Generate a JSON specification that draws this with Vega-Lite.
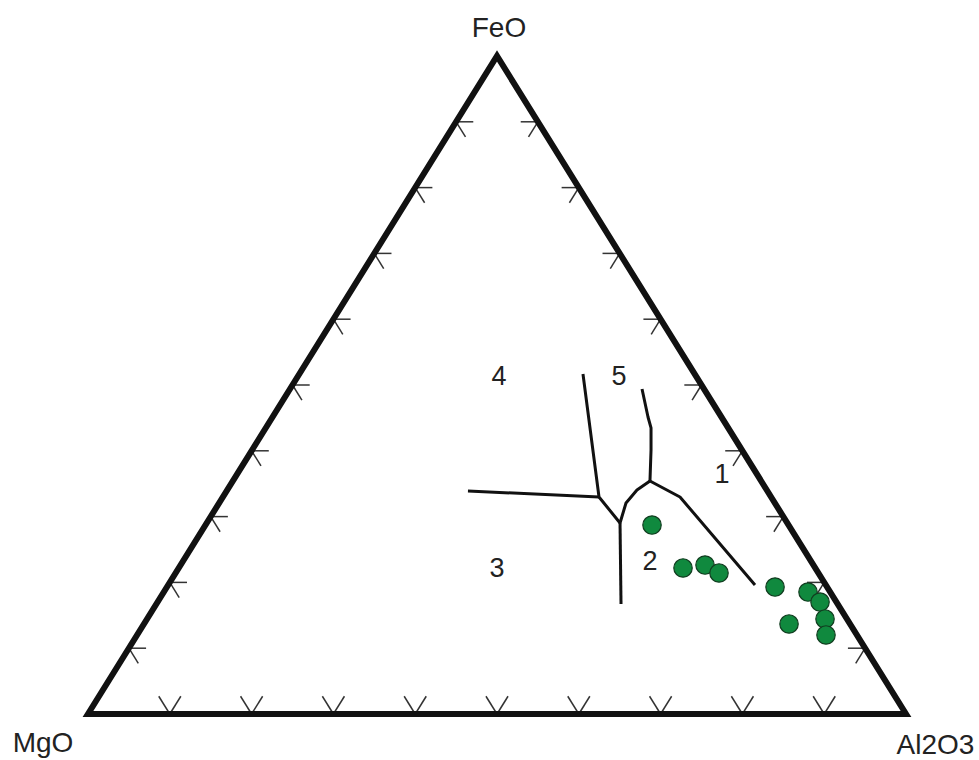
{
  "$schema": "https://vega.github.io/schema/vega-lite/v6.json",
  "autosize": "none",
  "width": 818,
  "height": 658,
  "padding": {"left": 88, "top": 56, "right": 73, "bottom": 46},
  "background": "white",
  "config": {"view": {"stroke": null}, "text": {"font": "Liberation Sans"}},
  "datasets": {
    "frame": [
      {"o": 1, "x": 50, "y": 0},
      {"o": 2, "x": 100, "y": 0},
      {"o": 3, "x": 50, "y": 100},
      {"o": 4, "x": 0, "y": 0},
      {"o": 5, "x": 50, "y": 0}
    ],
    "ticks": [
      {"x": 10, "y": 0, "x2": 8.65, "y2": 2.7}, {"x": 10, "y": 0, "x2": 11.35, "y2": 2.7},
      {"x": 20, "y": 0, "x2": 18.65, "y2": 2.7}, {"x": 20, "y": 0, "x2": 21.35, "y2": 2.7},
      {"x": 30, "y": 0, "x2": 28.65, "y2": 2.7}, {"x": 30, "y": 0, "x2": 31.35, "y2": 2.7},
      {"x": 40, "y": 0, "x2": 38.65, "y2": 2.7}, {"x": 40, "y": 0, "x2": 41.35, "y2": 2.7},
      {"x": 50, "y": 0, "x2": 48.65, "y2": 2.7}, {"x": 50, "y": 0, "x2": 51.35, "y2": 2.7},
      {"x": 60, "y": 0, "x2": 58.65, "y2": 2.7}, {"x": 60, "y": 0, "x2": 61.35, "y2": 2.7},
      {"x": 70, "y": 0, "x2": 68.65, "y2": 2.7}, {"x": 70, "y": 0, "x2": 71.35, "y2": 2.7},
      {"x": 80, "y": 0, "x2": 78.65, "y2": 2.7}, {"x": 80, "y": 0, "x2": 81.35, "y2": 2.7},
      {"x": 90, "y": 0, "x2": 88.65, "y2": 2.7}, {"x": 90, "y": 0, "x2": 91.35, "y2": 2.7},
      {"x": 5, "y": 10, "x2": 7.1, "y2": 10}, {"x": 5, "y": 10, "x2": 6.15, "y2": 7.7},
      {"x": 10, "y": 20, "x2": 12.1, "y2": 20}, {"x": 10, "y": 20, "x2": 11.15, "y2": 17.7},
      {"x": 15, "y": 30, "x2": 17.1, "y2": 30}, {"x": 15, "y": 30, "x2": 16.15, "y2": 27.7},
      {"x": 20, "y": 40, "x2": 22.1, "y2": 40}, {"x": 20, "y": 40, "x2": 21.15, "y2": 37.7},
      {"x": 25, "y": 50, "x2": 27.1, "y2": 50}, {"x": 25, "y": 50, "x2": 26.15, "y2": 47.7},
      {"x": 30, "y": 60, "x2": 32.1, "y2": 60}, {"x": 30, "y": 60, "x2": 31.15, "y2": 57.7},
      {"x": 35, "y": 70, "x2": 37.1, "y2": 70}, {"x": 35, "y": 70, "x2": 36.15, "y2": 67.7},
      {"x": 40, "y": 80, "x2": 42.1, "y2": 80}, {"x": 40, "y": 80, "x2": 41.15, "y2": 77.7},
      {"x": 45, "y": 90, "x2": 47.1, "y2": 90}, {"x": 45, "y": 90, "x2": 46.15, "y2": 87.7},
      {"x": 95, "y": 10, "x2": 92.9, "y2": 10}, {"x": 95, "y": 10, "x2": 93.85, "y2": 7.7},
      {"x": 90, "y": 20, "x2": 87.9, "y2": 20}, {"x": 90, "y": 20, "x2": 88.85, "y2": 17.7},
      {"x": 85, "y": 30, "x2": 82.9, "y2": 30}, {"x": 85, "y": 30, "x2": 83.85, "y2": 27.7},
      {"x": 80, "y": 40, "x2": 77.9, "y2": 40}, {"x": 80, "y": 40, "x2": 78.85, "y2": 37.7},
      {"x": 75, "y": 50, "x2": 72.9, "y2": 50}, {"x": 75, "y": 50, "x2": 73.85, "y2": 47.7},
      {"x": 70, "y": 60, "x2": 67.9, "y2": 60}, {"x": 70, "y": 60, "x2": 68.85, "y2": 57.7},
      {"x": 65, "y": 70, "x2": 62.9, "y2": 70}, {"x": 65, "y": 70, "x2": 63.85, "y2": 67.7},
      {"x": 60, "y": 80, "x2": 57.9, "y2": 80}, {"x": 60, "y": 80, "x2": 58.85, "y2": 77.7},
      {"x": 55, "y": 90, "x2": 52.9, "y2": 90}, {"x": 55, "y": 90, "x2": 53.85, "y2": 87.7}
    ],
    "fields": [
      {"seg": "A", "o": 1, "x": 46.45, "y": 33.89},
      {"seg": "A", "o": 2, "x": 62.47, "y": 32.98},
      {"seg": "B", "o": 1, "x": 60.51, "y": 51.67},
      {"seg": "B", "o": 2, "x": 62.47, "y": 32.98},
      {"seg": "B", "o": 3, "x": 65.04, "y": 29.03},
      {"seg": "C", "o": 1, "x": 65.04, "y": 29.03},
      {"seg": "C", "o": 2, "x": 65.16, "y": 16.72},
      {"seg": "D", "o": 1, "x": 65.04, "y": 29.03},
      {"seg": "D", "o": 2, "x": 65.77, "y": 32.07},
      {"seg": "D", "o": 3, "x": 67.11, "y": 34.04},
      {"seg": "D", "o": 4, "x": 68.7, "y": 35.41},
      {"seg": "E", "o": 1, "x": 68.7, "y": 35.41},
      {"seg": "E", "o": 2, "x": 68.83, "y": 40.12},
      {"seg": "E", "o": 3, "x": 68.83, "y": 43.47},
      {"seg": "E", "o": 4, "x": 68.46, "y": 45.14},
      {"seg": "E", "o": 5, "x": 67.73, "y": 49.39},
      {"seg": "F", "o": 1, "x": 68.7, "y": 35.41},
      {"seg": "F", "o": 2, "x": 72.37, "y": 32.98},
      {"seg": "F", "o": 3, "x": 81.54, "y": 19.6}
    ],
    "samples": [
      {"x": 68.95, "y": 28.72},
      {"x": 72.74, "y": 22.19},
      {"x": 75.43, "y": 22.64},
      {"x": 77.14, "y": 21.43},
      {"x": 83.99, "y": 19.3},
      {"x": 88.02, "y": 18.54},
      {"x": 89.49, "y": 17.02},
      {"x": 85.7, "y": 13.68},
      {"x": 90.1, "y": 14.44},
      {"x": 90.22, "y": 12.01}
    ],
    "regionLabels": [
      {"t": "4", "x": 50.24, "y": 50.0},
      {"t": "5", "x": 64.91, "y": 50.0},
      {"t": "3", "x": 50.0, "y": 20.82},
      {"t": "2", "x": 68.7, "y": 21.88},
      {"t": "1", "x": 77.5, "y": 35.1}
    ],
    "vertexLabels": [
      {"t": "FeO", "x": 50.24, "y": 102.9},
      {"t": "MgO", "x": -5.5, "y": -5.78},
      {"t": "Al2O3", "x": 103.6, "y": -6.08}
    ]
  },
  "layer": [
    {
      "data": {"name": "ticks"},
      "mark": {"type": "rule", "stroke": "#333333", "strokeWidth": 1.5},
      "encoding": {
        "x": {"field": "x", "type": "quantitative", "scale": {"domain": [0, 100], "nice": false, "zero": false}, "axis": null},
        "y": {"field": "y", "type": "quantitative", "scale": {"domain": [0, 100], "nice": false, "zero": false}, "axis": null},
        "x2": {"field": "x2"},
        "y2": {"field": "y2"}
      }
    },
    {
      "data": {"name": "frame"},
      "mark": {"type": "line", "stroke": "#111111", "strokeWidth": 6, "strokeJoin": "miter", "strokeCap": "butt"},
      "encoding": {
        "x": {"field": "x", "type": "quantitative", "scale": {"domain": [0, 100], "nice": false, "zero": false}, "axis": null},
        "y": {"field": "y", "type": "quantitative", "scale": {"domain": [0, 100], "nice": false, "zero": false}, "axis": null},
        "order": {"field": "o", "type": "quantitative"}
      }
    },
    {
      "data": {"name": "fields"},
      "mark": {"type": "line", "stroke": "#111111", "strokeWidth": 3, "strokeJoin": "round"},
      "encoding": {
        "x": {"field": "x", "type": "quantitative", "scale": {"domain": [0, 100], "nice": false, "zero": false}, "axis": null},
        "y": {"field": "y", "type": "quantitative", "scale": {"domain": [0, 100], "nice": false, "zero": false}, "axis": null},
        "detail": {"field": "seg", "type": "nominal"},
        "order": {"field": "o", "type": "quantitative"}
      }
    },
    {
      "data": {"name": "samples"},
      "mark": {"type": "circle", "size": 340, "fill": "#10893e", "fillOpacity": 1, "stroke": "#123d20", "strokeWidth": 1.2},
      "encoding": {
        "x": {"field": "x", "type": "quantitative", "scale": {"domain": [0, 100], "nice": false, "zero": false}, "axis": null},
        "y": {"field": "y", "type": "quantitative", "scale": {"domain": [0, 100], "nice": false, "zero": false}, "axis": null}
      }
    },
    {
      "data": {"name": "regionLabels"},
      "mark": {"type": "text", "fontSize": 27, "fill": "#222222", "align": "center", "baseline": "alphabetic", "font": "Liberation Sans"},
      "encoding": {
        "x": {"field": "x", "type": "quantitative", "scale": {"domain": [0, 100], "nice": false, "zero": false}, "axis": null},
        "y": {"field": "y", "type": "quantitative", "scale": {"domain": [0, 100], "nice": false, "zero": false}, "axis": null},
        "text": {"field": "t", "type": "nominal"}
      }
    },
    {
      "data": {"name": "vertexLabels"},
      "mark": {"type": "text", "fontSize": 28, "fill": "#222222", "align": "center", "baseline": "alphabetic", "font": "Liberation Sans"},
      "encoding": {
        "x": {"field": "x", "type": "quantitative", "scale": {"domain": [0, 100], "nice": false, "zero": false}, "axis": null},
        "y": {"field": "y", "type": "quantitative", "scale": {"domain": [0, 100], "nice": false, "zero": false}, "axis": null},
        "text": {"field": "t", "type": "nominal"}
      }
    }
  ]
}
